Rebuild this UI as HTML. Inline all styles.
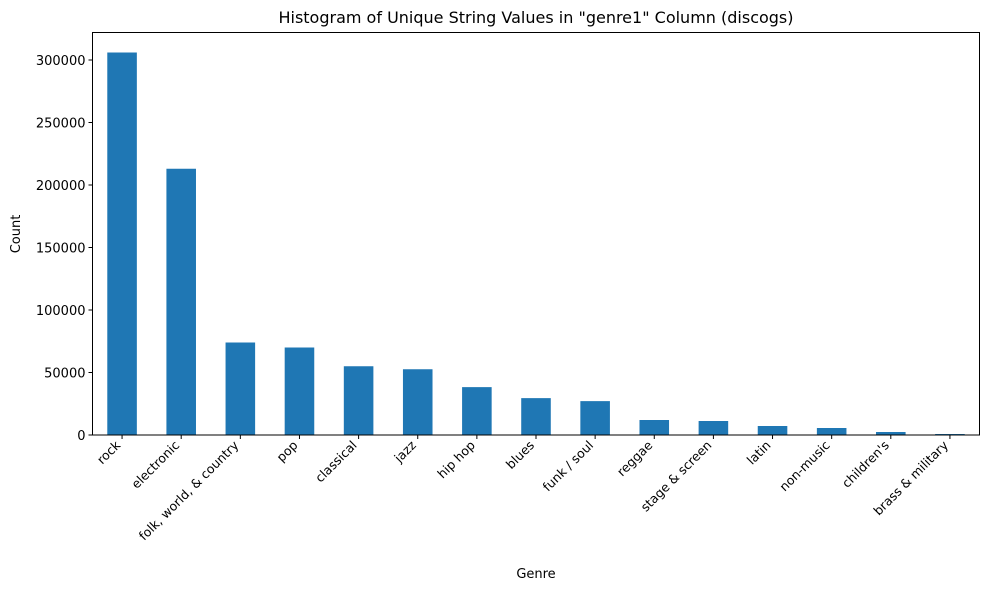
<!DOCTYPE html>
<html><head><meta charset="utf-8"><style>
body{margin:0;background:#fff}
svg text{font-family:"DejaVu Sans","Liberation Sans",sans-serif;fill:#000}
</style></head><body>
<svg id="chart" width="989" height="590" xmlns="http://www.w3.org/2000/svg">
<rect width="989" height="590" fill="#fff"/>
<g id="bars"></g>
<g id="xticks"></g>
<g id="yticks"></g>
<rect x="92.5" y="32.5" width="887" height="402.5" fill="none" stroke="#000" stroke-width="1"/>
<text x="536" y="23" font-size="16" text-anchor="middle">Histogram of Unique String Values in "genre1" Column (discogs)</text>
<text x="536" y="578" font-size="13" text-anchor="middle">Genre</text>
<text transform="translate(20,234) rotate(-90)" font-size="13" text-anchor="middle">Count</text>
</svg>
<script>
const categories=["rock","electronic","folk, world, & country","pop","classical","jazz","hip hop","blues","funk / soul","reggae","stage & screen","latin","non-music","children's","brass & military"];
const counts=[306000,213000,74000,70000,55000,52600,38300,29500,27100,12000,11200,7200,5600,2400,800];
const yTicks=[0,50000,100000,150000,200000,250000,300000];
const ns="http://www.w3.org/2000/svg";
const L=92.5,R=979.5,B=435,T=32.5;
const step=(R-L)/categories.length;
function xs(i){return L+step*(i+0.5);}
function ys(v){return B-v*(375/300000);}
const gb=document.getElementById('bars'),gx=document.getElementById('xticks'),gy=document.getElementById('yticks');
categories.forEach((c,i)=>{
 const r=document.createElementNS(ns,'rect');
 
 
 const w=step*0.5;
 r.setAttribute('x',xs(i)-w/2);r.setAttribute('width',w);
 r.setAttribute('y',ys(counts[i]));r.setAttribute('height',B-ys(counts[i]));
 r.setAttribute('fill','#1f77b4');gb.appendChild(r);
 const l=document.createElementNS(ns,'line');
 
 
 l.setAttribute('x1',xs(i));l.setAttribute('x2',xs(i));l.setAttribute('y1',B);l.setAttribute('y2',B+4);l.setAttribute('stroke','#000');gx.appendChild(l);
 const t=document.createElementNS(ns,'text');
 
 
 t.setAttribute('font-size','12.5');t.setAttribute('text-anchor','end');
 t.setAttribute('transform','translate('+(xs(i)-1)+','+(B+11)+') rotate(-45)');
 t.textContent=c;gx.appendChild(t);
});
yTicks.forEach(v=>{
 const l=document.createElementNS(ns,'line');
 
 
 l.setAttribute('x1',L-4);l.setAttribute('x2',L);l.setAttribute('y1',ys(v));l.setAttribute('y2',ys(v));l.setAttribute('stroke','#000');gy.appendChild(l);
 const t=document.createElementNS(ns,'text');
 
 
 t.setAttribute('font-size','13');t.setAttribute('text-anchor','end');
 t.setAttribute('x',L-7);t.setAttribute('y',ys(v)+5);
 t.textContent=v;gy.appendChild(t);
});
</script>
</body></html>
